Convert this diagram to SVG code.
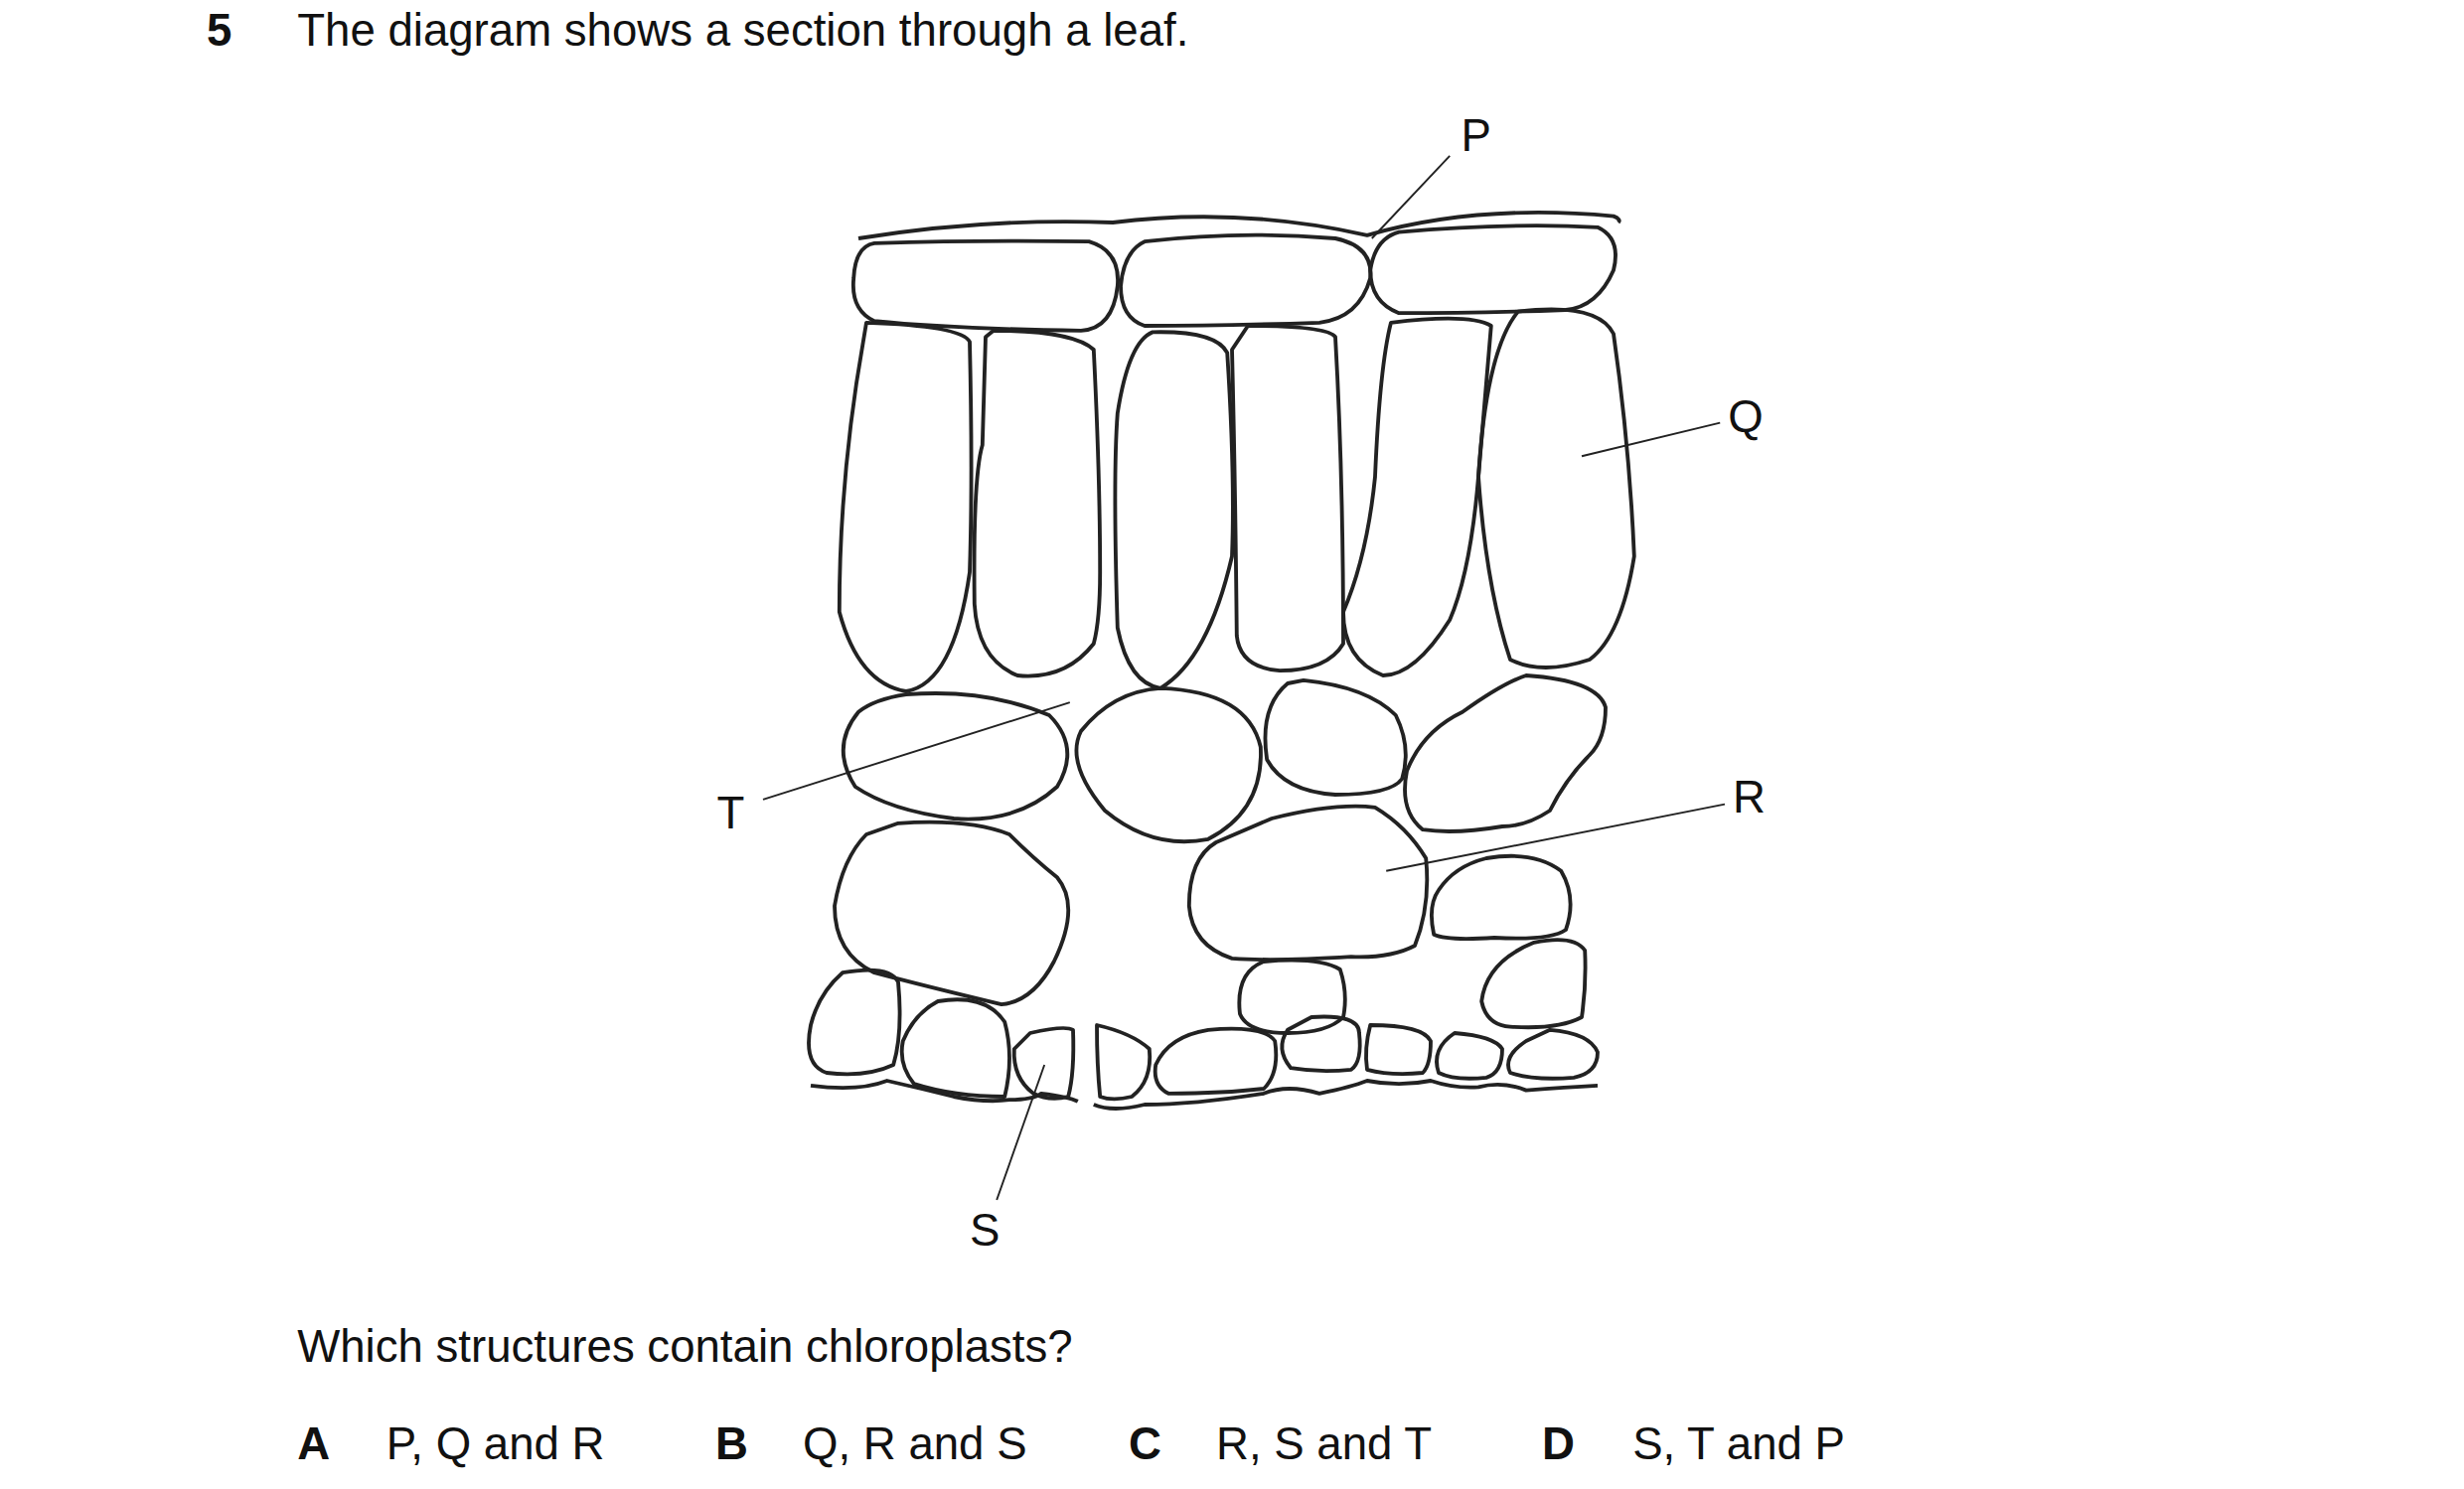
<svg xmlns="http://www.w3.org/2000/svg" width="2480" height="1499" viewBox="0 0 2480 1499">
<style>
.c{fill:none;stroke:#222;stroke-width:2.4;stroke-linejoin:round}
.l{fill:none;stroke:#222;stroke-width:1.2}
text{font-family:"Liberation Sans",Arial,sans-serif;font-size:28.5px;fill:#111}
.b{font-weight:bold}
</style>
<rect width="2480" height="1499" fill="#fff"/>
<g transform="scale(1.6)">
<text x="130" y="29" class="b">5</text>
<text x="187" y="29">The diagram shows a section through a leaf.</text>
<g id="cells">
<path class="c" d="M540,150 Q620,137 700,140 Q780,130 860,148 Q930,128 1015,136 Q1020,138 1018,140"/>
<path class="c" d="M550,153 Q620,151 685,152 Q705,158 703,180 Q700,207 680,208 Q600,207 550,202 Q535,195 537,175 Q538,155 550,153Z"/>
<path class="c" d="M720,152 Q780,145 840,150 Q864,155 862,175 Q855,200 830,203 Q770,205 720,205 Q705,200 705,180 Q707,158 720,152Z"/>
<path class="c" d="M880,146 Q950,140 1005,143 Q1020,150 1015,170 Q1005,193 985,195 Q930,197 880,197 Q862,190 862,170 Q865,150 880,146Z"/>
<path class="c" d="M545,203 Q605,205 610,215 Q612,300 610,360 Q600,430 570,435 Q540,430 528,385 Q528,300 543,215Z"/>
<path class="c" d="M625,208 Q675,208 688,220 Q692,300 692,360 Q692,390 688,405 Q670,428 640,425 Q615,415 613,380 Q612,300 618,280 L620,212Z"/>
<path class="c" d="M725,209 Q765,208 772,222 Q777,300 775,350 Q760,415 730,433 Q710,430 703,395 Q700,300 703,260 Q710,215 725,209Z"/>
<path class="c" d="M785,205 Q835,205 840,212 Q845,300 845,405 Q835,422 805,422 Q780,420 778,400 Q777,300 775,220Z"/>
<path class="c" d="M875,203 Q925,197 938,205 Q935,240 930,300 Q925,360 912,390 Q890,425 870,425 Q845,415 845,385 Q860,350 865,300 Q868,230 875,203Z"/>
<path class="c" d="M955,196 Q1005,190 1015,210 Q1025,280 1028,350 Q1020,400 1000,415 Q970,425 950,415 Q935,370 930,300 Q935,220 955,196Z"/>
<path class="c" d="M570,437 Q620,433 660,450 Q680,470 665,495 Q640,518 600,515 Q560,510 538,495 Q522,470 540,448 Q550,440 570,437Z"/>
<path class="c" d="M730,433 Q785,435 793,470 Q795,510 760,528 Q725,535 695,510 Q670,480 680,460 Q700,435 730,433Z"/>
<path class="c" d="M820,428 Q860,432 878,450 Q888,470 882,490 Q875,500 840,500 Q808,498 797,478 Q792,445 810,430Z"/>
<path class="c" d="M960,425 Q1005,428 1010,445 Q1010,465 1000,475 Q985,490 975,510 Q960,520 945,520 Q915,525 895,522 Q880,510 885,485 Q895,460 920,448 Q945,430 960,425Z"/>
<path class="c" d="M565,518 Q610,515 635,525 Q650,540 665,552 Q680,570 663,605 Q650,630 630,632 Q580,620 550,612 Q525,600 525,570 Q530,540 545,525Z"/>
<path class="c" d="M800,515 Q840,505 865,508 Q885,520 897,540 Q900,570 890,595 Q875,603 850,602 Q800,605 775,603 Q750,595 748,570 Q748,540 765,530 Z"/>
<path class="c" d="M935,540 Q965,535 982,548 Q992,565 985,585 Q975,592 940,590 Q910,592 902,588 Q898,570 905,560 Q915,545 935,540Z"/>
<path class="c" d="M965,593 Q990,588 997,598 Q998,620 995,640 Q980,648 950,646 Q935,645 932,630 Q935,605 965,593Z"/>
<path class="c" d="M795,605 Q830,602 843,610 Q848,625 845,640 Q835,650 810,650 Q785,650 780,638 Q777,612 795,605Z"/>
<path class="c" d="M530,612 Q560,607 565,618 Q568,650 562,670 Q545,678 520,675 Q505,670 510,645 Q515,625 530,612Z"/>
<path class="c" d="M590,630 Q620,625 632,643 Q638,665 632,690 Q600,690 575,682 Q565,670 568,655 Q575,638 590,630Z"/>
<path class="c" d="M648,650 Q670,645 675,648 Q676,675 672,690 Q660,693 650,688 Q637,678 638,660Z"/>
<path class="c" d="M690,645 Q712,650 723,660 Q725,680 712,690 Q700,693 692,690 Q690,670 690,645Z"/>
<path class="c" d="M760,648 Q795,645 802,655 Q805,675 795,685 Q770,688 735,688 Q725,683 727,670 Q735,652 760,648Z"/>
<path class="c" d="M825,640 Q855,638 855,650 Q857,668 850,673 Q830,675 812,672 Q802,660 810,648Z"/>
<path class="c" d="M862,645 Q895,645 900,655 Q900,670 895,675 Q875,677 860,673 Q858,660 862,645Z"/>
<path class="c" d="M915,650 Q940,652 945,660 Q945,675 935,678 Q915,680 905,675 Q900,660 915,650Z"/>
<path class="c" d="M975,648 Q1000,650 1005,662 Q1005,675 990,678 Q965,680 950,675 Q945,665 960,655Z"/>
<path class="c" d="M510,683 Q540,687 558,680 Q580,685 600,690 Q620,694 635,692 Q650,692 655,688 Q672,690 678,693"/>
<path class="c" d="M688,695 Q700,700 720,695 Q750,695 795,688 Q810,682 830,688 Q850,684 860,680 Q880,684 900,680 Q915,685 930,684 Q945,680 960,686 Q985,684 1005,683"/>
</g>
<g id="connectors">
<line class="l" x1="912" y1="98" x2="863" y2="150"/>
<line class="l" x1="1082" y1="266" x2="995" y2="287"/>
<line class="l" x1="1085" y1="506" x2="872" y2="548"/>
<line class="l" x1="480" y1="503" x2="673" y2="442"/>
<line class="l" x1="627" y1="755" x2="657" y2="670"/>
</g>
<text x="919" y="95">P</text>
<text x="1087" y="272">Q</text>
<text x="1090" y="511">R</text>
<text x="451" y="521">T</text>
<text x="610" y="784">S</text>
<text x="187" y="857">Which structures contain chloroplasts?</text>
<text x="187" y="918" class="b">A</text><text x="243" y="918">P, Q and R</text>
<text x="450" y="918" class="b">B</text><text x="505" y="918">Q, R and S</text>
<text x="710" y="918" class="b">C</text><text x="765" y="918">R, S and T</text>
<text x="970" y="918" class="b">D</text><text x="1027" y="918">S, T and P</text>
</g>
</svg>
